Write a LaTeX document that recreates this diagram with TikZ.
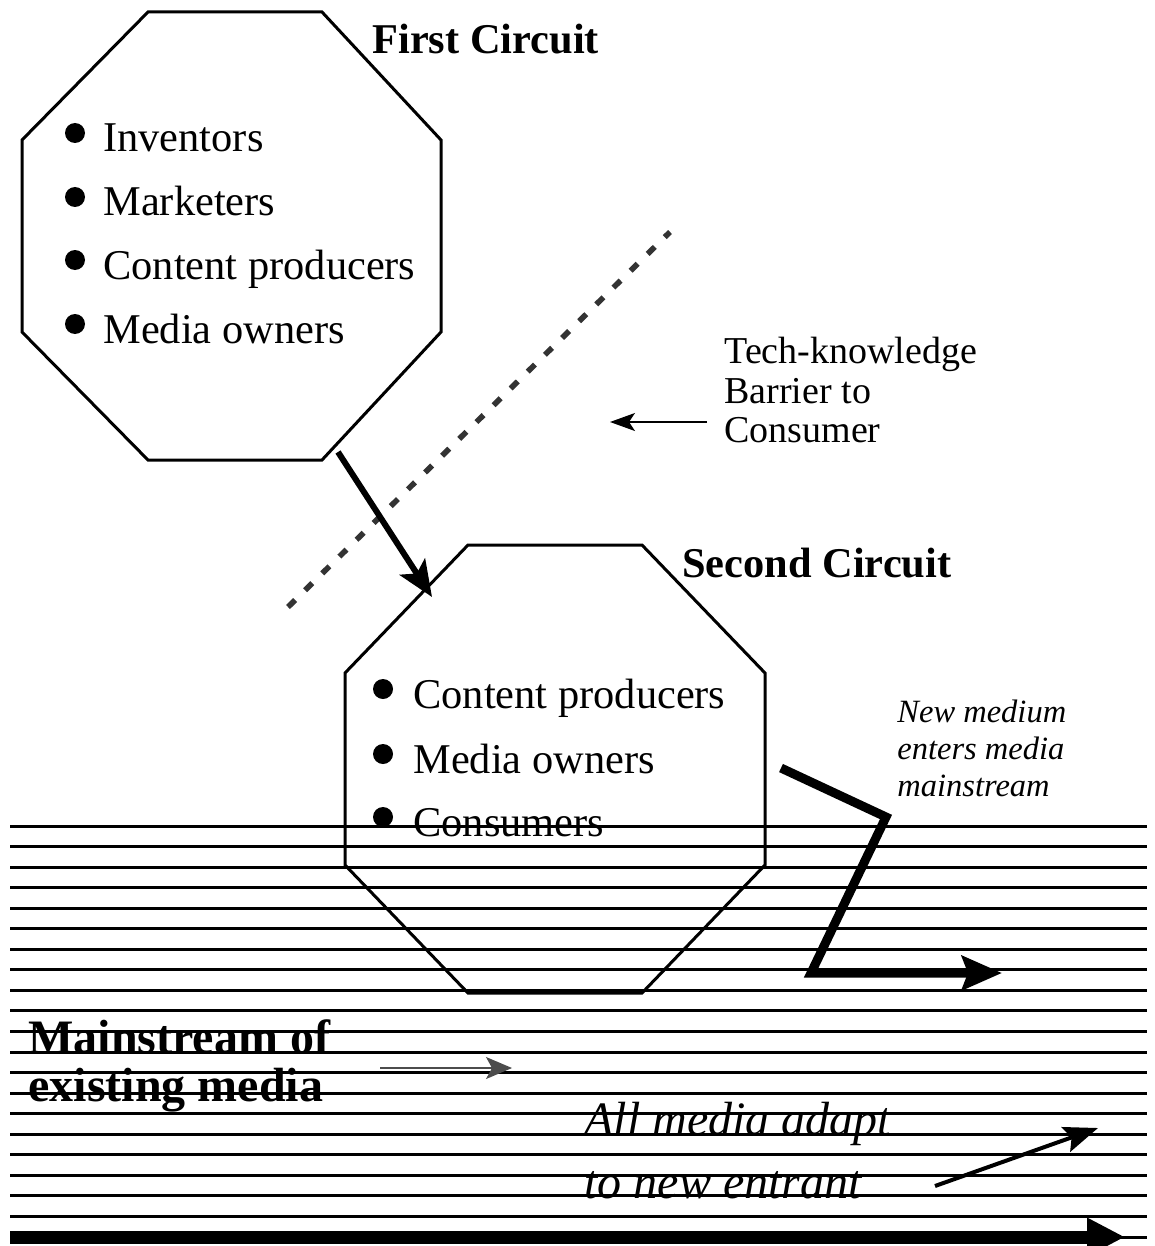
\documentclass[tikz,border=0pt]{standalone}
\usepackage{fontspec}
\setmainfont{Liberation Serif}
\usetikzlibrary{arrows.meta}
\begin{document}
\begin{tikzpicture}[x=0.5pt,y=-0.5pt,
  octa/.style={line width=1.5pt, line join=miter},
  itemtext/.style={anchor=base west, inner sep=0pt, font=\fontsize{21.2}{25}\selectfont},
  titletext/.style={anchor=base west, inner sep=0pt, font=\fontsize{21.2}{25}\selectfont\bfseries},
  bulletdot/.style={fill=black},
  stream/.style={line width=1.5pt},
  barrier/.style={line width=2.8pt, black!80, dash pattern=on 5pt off 7pt},
  bigarrow/.style={line width=3pt, -{Stealth[length=18pt,width=15pt,inset=4pt]}},
  thinarrow/.style={line width=0.75pt, -{Stealth[length=12.5pt,width=9pt,inset=3pt]}},
  zarrow/.style={line width=4.5pt, line join=miter, -{Stealth[length=20pt,width=17pt,inset=3pt]}},
  adaptarrow/.style={line width=2pt, -{Stealth[length=17pt,width=13pt,inset=3pt]}},
  mainarrow/.style={line width=0.6pt, black!70, -{Stealth[length=13pt,width=11pt,inset=3pt]}},
  basearrow/.style={line width=6.5pt, -{Triangle[length=19pt,width=18pt]}}
]
\useasboundingbox (0,0) rectangle (1155,1246);
\fill[white] (0,0) rectangle (1155,1246);

% mainstream lines
\foreach \i in {0,...,20}{
  \draw[stream] (10,{826+20.55*\i}) -- (1147,{826+20.55*\i});
}

% octagon 1
\coordinate (a1) at (148,12);
\coordinate (a2) at (322,12);
\coordinate (a3) at (441,140);
\coordinate (a4) at (441,332);
\coordinate (a5) at (322,460);
\coordinate (a6) at (148,460);
\coordinate (a7) at (22,332);
\coordinate (a8) at (22,140);
\draw[octa] (a1) -- (a2) -- (a3) -- (a4) -- (a5) -- (a6) -- (a7) -- (a8) -- cycle;

% octagon 2
\coordinate (b1) at (468,545);
\coordinate (b2) at (642,545);
\coordinate (b3) at (765,673);
\coordinate (b4) at (765,865);
\coordinate (b5) at (642,993);
\coordinate (b6) at (468,993);
\coordinate (b7) at (345,865);
\coordinate (b8) at (345,673);
\draw[octa] (b1) -- (b2) -- (b3) -- (b4) -- (b5) -- (b6) -- (b7) -- (b8) -- cycle;

% titles
\node[titletext] (t1) at (372,54) {First Circuit};
\node[titletext] (t2) at (682,577) {Second Circuit};

% first circuit items
\fill[bulletdot] (75,133) circle (10);
\fill[bulletdot] (75,197) circle (10);
\fill[bulletdot] (75,260) circle (10);
\fill[bulletdot] (75,324) circle (10);
\node[itemtext] (i1) at (103,152) {Inventors};
\node[itemtext] (i2) at (103,216) {Marketers};
\node[itemtext] (i3) at (103,279) {Content producers};
\node[itemtext] (i4) at (103,343) {Media owners};

% second circuit items
\fill[bulletdot] (383,689) circle (10);
\fill[bulletdot] (383,754) circle (10);
\fill[bulletdot] (383,817) circle (10);
\node[itemtext] (j1) at (413,708) {Content producers};
\node[itemtext] (j2) at (413,773) {Media owners};
\node[itemtext] (j3) at (413,836) {Consumers};

% barrier
\coordinate (d1) at (288,607);
\coordinate (d2) at (670,232);
\draw[barrier] (d1) -- (d2);

% arrow first -> second
\coordinate (p1) at (338,452);
\coordinate (p2) at (432,597);
\draw[bigarrow] (p1) -- (p2);

% tech-knowledge label
\node[anchor=north west, align=left, inner sep=0pt, font=\fontsize{19}{19.75}\selectfont] (tech) at (724,337) {Tech-knowledge\\Barrier to\\Consumer};
\coordinate (q1) at (707,422);
\coordinate (q2) at (610,422);
\draw[thinarrow] (q1) -- (q2);

% new medium
\node[anchor=north west, align=left, inner sep=0pt, font=\fontsize{16.25}{18.5}\selectfont\itshape] (newm) at (897,700) {New medium\\enters media\\mainstream};
\coordinate (z1) at (781,768);
\coordinate (z2) at (886,817);
\coordinate (z3) at (811,973);
\coordinate (z4) at (1002,973);
\draw[zarrow] (z1) -- (z2) -- (z3) -- (z4);

% mainstream label
\node[anchor=north west, align=left, inner sep=0pt, font=\fontsize{24}{24}\selectfont\bfseries] (mains) at (28,1019) {Mainstream of\\existing media};
\coordinate (m1) at (380,1068);
\coordinate (m2) at (512,1068);
\draw[mainarrow] (m1) -- (m2);

% adapt label
\node[anchor=north west, align=left, inner sep=0pt, font=\fontsize{24}{31.5}\selectfont\itshape] (adapt) at (584,1102) {All media adapt\\to new entrant};
\coordinate (n1) at (935,1186);
\coordinate (n2) at (1098,1128);
\draw[adaptarrow] (n1) -- (n2);

% base arrow
\coordinate (e1) at (10,1237);
\coordinate (e2) at (1125,1237);
\draw[basearrow] (e1) -- (e2);
\end{tikzpicture}
\end{document}
